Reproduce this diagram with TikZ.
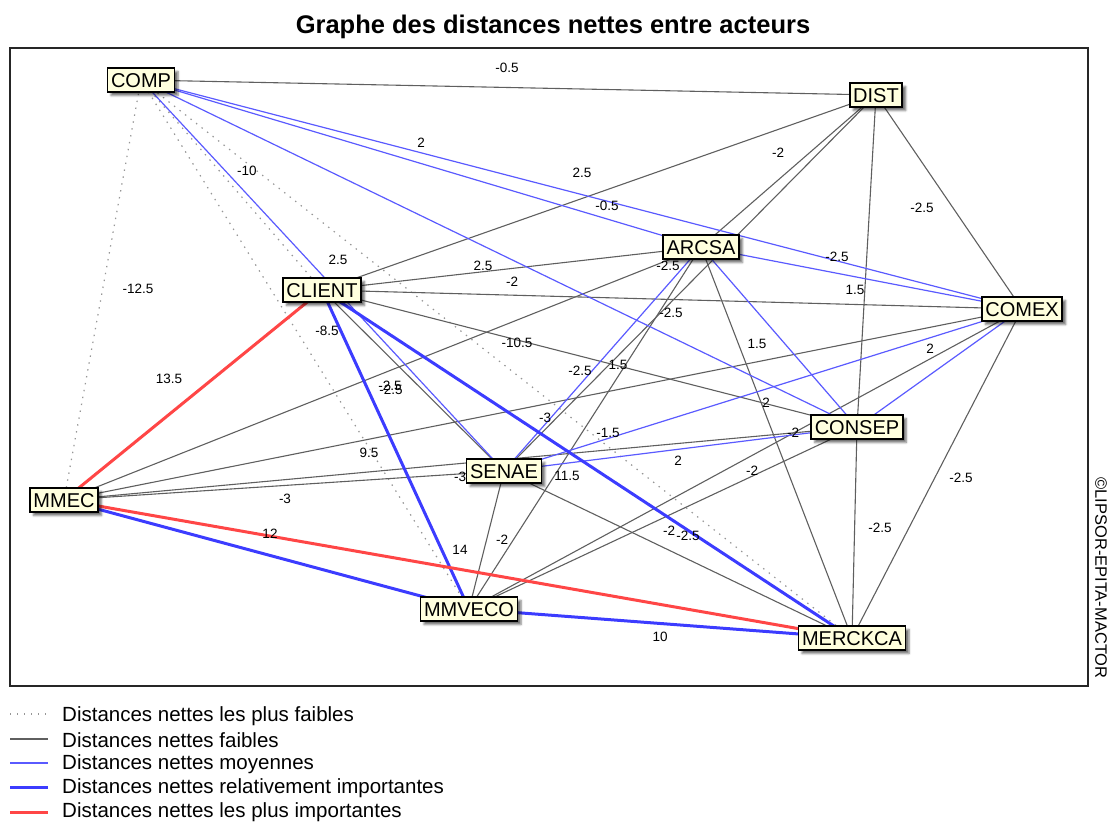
\documentclass[tikz,border=0pt]{standalone}
\usepackage{fontspec}
\setmainfont{Liberation Sans}
\usetikzlibrary{shadows.blur}

\pgfdeclarelayer{edges}
\pgfdeclarelayer{labels}
\pgfsetlayers{edges,labels,main}

\definecolor{weakgray}{RGB}{150,150,150}
\definecolor{lowgray}{RGB}{95,95,95}
\definecolor{midblue}{RGB}{90,90,255}
\definecolor{strongblue}{RGB}{60,60,255}
\definecolor{topred}{RGB}{255,70,70}
\definecolor{boxfill}{RGB}{255,255,222}

\tikzset{
  actor/.style={draw=black, line width=1.6pt, fill=boxfill,
    font=\fontsize{20}{20}\selectfont, inner xsep=3.5pt, inner ysep=0pt,
    minimum height=24pt, text height=14.5pt, text depth=0pt,
    blur shadow={shadow xshift=3.5pt, shadow yshift=-3.5pt,
      shadow blur steps=4, shadow blur radius=2pt, shadow opacity=55}},
  dweak/.style={draw=weakgray, line width=1.2pt, dash pattern=on 1.4pt off 5.6pt},
  dlow/.style={draw=lowgray, line width=1.1pt},
  dmid/.style={draw=midblue, line width=1.2pt},
  dhigh/.style={draw=strongblue, line width=3pt},
  dtop/.style={draw=topred, line width=3pt},
  elabel/.style={font=\fontsize{13.5}{14}\selectfont, inner sep=0pt},
  legtext/.style={font=\fontsize{20.5}{21}\selectfont, anchor=west, inner sep=0pt},
}

\begin{document}
\begin{tikzpicture}[x=1pt, y=-1pt]
\useasboundingbox (0,0) rectangle (1110,824);

% title and frame
\node[font=\fontsize{25.5}{26}\selectfont\bfseries] (title) at (553,27) {Graphe des distances nettes entre acteurs};
\draw[line width=1.5pt, draw=black!85] (10,48) rectangle (1088,686);
\node[rotate=-90, font=\fontsize{16.5}{16.5}\selectfont, inner sep=0pt] (copy) at (1101,578) {©LIPSOR-EPITA-MACTOR};

% actors
\node[actor] (COMP)    at (141,80)  {COMP};
\node[actor] (DIST)    at (876,95)  {DIST};
\node[actor] (ARCSA)   at (701,247) {ARCSA};
\node[actor] (CLIENT)  at (322,290) {CLIENT};
\node[actor] (COMEX)   at (1022,309) {COMEX};
\node[actor] (CONSEP)  at (857,427) {CONSEP};
\node[actor] (SENAE)   at (504,471) {SENAE};
\node[actor] (MMEC)    at (64,500)  {MMEC};
\node[actor] (MMVECO)  at (469,609) {MMVECO};
\node[actor] (MERCKCA) at (852,638) {MERCKCA};

\begin{pgfonlayer}{edges}
% weakest net distances
\draw[dweak] (COMP.center) -- (MMEC.center);
\draw[dweak] (COMP.center) -- (CLIENT.center);
\draw[dweak] (COMP.center) -- (MMVECO.center);
\draw[dweak] (COMP.center) -- (MERCKCA.center);
% weak net distances
\draw[dlow] (COMP.center) -- (DIST.center);
\draw[dlow] (DIST.center) -- (CLIENT.center);
\draw[dlow] (DIST.center) -- (ARCSA.center);
\draw[dlow] (DIST.center) -- (SENAE.center);
\draw[dlow] (DIST.center) -- (COMEX.center);
\draw[dlow] (DIST.center) -- (CONSEP.center);
\draw[dlow] (CONSEP.center) -- (MERCKCA.center);
\draw[dlow] (CLIENT.center) -- (ARCSA.center);
\draw[dlow] (CLIENT.center) -- (COMEX.center);
\draw[dlow] (CLIENT.center) -- (CONSEP.center);
\draw[dlow] (CLIENT.center) -- (SENAE.center);
\draw[dlow] (ARCSA.center) -- (MMEC.center);
\draw[dlow] (ARCSA.center) -- (MMVECO.center);
\draw[dlow] (ARCSA.center) -- (MERCKCA.center);
\draw[dlow] (MMEC.center) -- (COMEX.center);
\draw[dlow] (MMEC.center) -- (CONSEP.center);
\draw[dlow] (MMEC.center) -- (SENAE.center);
\draw[dlow] (MMVECO.center) -- (SENAE.center);
\draw[dlow] (MMVECO.center) -- (CONSEP.center);
\draw[dlow] (MMVECO.center) -- (COMEX.center);
\draw[dlow] (SENAE.center) -- (MERCKCA.center);
\draw[dlow] (COMEX.center) -- (MERCKCA.center);
% medium net distances
\draw[dmid] (COMP.center) -- (ARCSA.center);
\draw[dmid] (COMP.center) -- (COMEX.center);
\draw[dmid] (COMP.center) -- (CONSEP.center);
\draw[dmid] (COMP.center) -- (SENAE.center);
\draw[dmid] (ARCSA.center) -- (COMEX.center);
\draw[dmid] (ARCSA.center) -- (SENAE.center);
\draw[dmid] (ARCSA.center) -- (CONSEP.center);
\draw[dmid] (SENAE.center) -- (CONSEP.center);
\draw[dmid] (SENAE.center) -- (COMEX.center);
\draw[dmid] (COMEX.center) -- (CONSEP.center);
% fairly strong net distances
\draw[dhigh] (CLIENT.center) -- (MMVECO.center);
\draw[dhigh] (CLIENT.center) -- (MERCKCA.center);
\draw[dhigh] (MMEC.center) -- (MMVECO.center);
\draw[dhigh] (MMVECO.center) -- (MERCKCA.center);
% strongest net distances
\draw[dtop] (MMEC.center) -- (CLIENT.center);
\draw[dtop] (MMEC.center) -- (MERCKCA.center);
\end{pgfonlayer}

\begin{pgfonlayer}{labels}
\node[elabel] (v1)  at (507,68)  {-0.5};
\node[elabel] (v2)  at (421,143) {2};
\node[elabel] (v3)  at (247,171) {-10};
\node[elabel] (v4)  at (778,153) {-2};
\node[elabel] (v5)  at (582,173) {2.5};
\node[elabel] (v6)  at (607,206) {-0.5};
\node[elabel] (v7)  at (922,208) {-2.5};
\node[elabel] (v8)  at (837,257) {-2.5};
\node[elabel] (v9)  at (668,266) {-2.5};
\node[elabel] (v10) at (338,260) {2.5};
\node[elabel] (v11) at (483,266) {2.5};
\node[elabel] (v12) at (512,282) {-2};
\node[elabel] (v13) at (855,290) {1.5};
\node[elabel] (v14) at (138,289) {-12.5};
\node[elabel] (v15) at (671,313) {-2.5};
\node[elabel] (v16) at (327,331) {-8.5};
\node[elabel] (v17) at (517,343) {-10.5};
\node[elabel] (v18) at (757,344) {1.5};
\node[elabel] (v19) at (930,349) {2};
\node[elabel] (v20) at (169,379) {13.5};
\node[elabel] (v21) at (580,371) {-2.5};
\node[elabel] (v22) at (618,365) {1.5};
\node[elabel] (v23) at (390,386) {-2.5};
\node[elabel] (v24) at (391,390) {-2.5};
\node[elabel] (v25) at (766,403) {2};
\node[elabel] (v26) at (545,418) {-3};
\node[elabel] (v27) at (608,433) {-1.5};
\node[elabel] (v28) at (793,433) {-2};
\node[elabel] (v29) at (369,453) {9.5};
\node[elabel] (v30) at (678,461) {2};
\node[elabel] (v31) at (460,477) {-3};
\node[elabel] (v32) at (567,476) {11.5};
\node[elabel] (v33) at (752,471) {-2};
\node[elabel] (v34) at (285,499) {-3};
\node[elabel] (v35) at (270,534) {12};
\node[elabel] (v36) at (961,478) {-2.5};
\node[elabel] (v37) at (880,528) {-2.5};
\node[elabel] (v38) at (460,550) {14};
\node[elabel] (v39) at (502,540) {-2};
\node[elabel] (v40) at (669,531) {-2};
\node[elabel] (v41) at (688,536) {-2.5};
\node[elabel] (v42) at (660,637) {10};
\end{pgfonlayer}

% legend
\draw[dweak] (10,714) -- (46,714);
\draw[dlow]  (10,739) -- (48,739);
\draw[dmid]  (10,763) -- (48,763);
\draw[dhigh] (10,787) -- (48,787);
\draw[dtop]  (10,812) -- (48,812);
\node[legtext] (k1) at (62,716) {Distances nettes les plus faibles};
\node[legtext] (k2) at (62,740) {Distances nettes faibles};
\node[legtext] (k3) at (62,764) {Distances nettes moyennes};
\node[legtext] (k4) at (62,788) {Distances nettes relativement importantes};
\node[legtext] (k5) at (62,812) {Distances nettes les plus importantes};
\end{tikzpicture}
\end{document}
